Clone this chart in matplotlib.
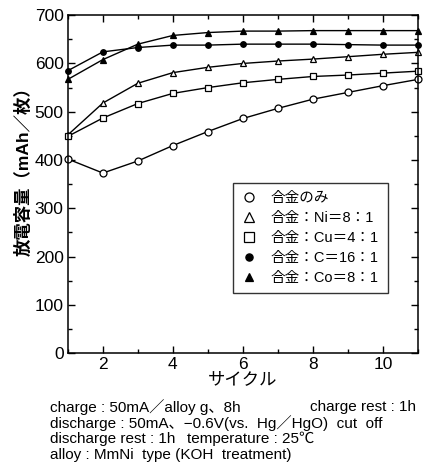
import matplotlib
matplotlib.use("Agg")
import matplotlib.pyplot as plt
from matplotlib.ticker import MultipleLocator

plt.rcParams['font.family'] = ['Liberation Sans', 'Noto Sans CJK JP', 'DejaVu Sans']

cycles = [1, 2, 3, 4, 5, 6, 7, 8, 9, 10, 11]
alloy_only = [402, 373, 398, 430, 459, 486, 507, 526, 540, 554, 567]
ni_8_1 = [452, 518, 559, 581, 592, 600, 605, 609, 614, 619, 623]
cu_4_1 = [449, 487, 517, 538, 550, 560, 567, 573, 576, 580, 584]
c_16_1 = [585, 624, 633, 638, 638, 640, 640, 640, 639, 638, 638]
co_8_1 = [567, 608, 640, 658, 664, 667, 667, 668, 668, 668, 668]

labels = ["合金のみ", "合金：Ni＝8：1", "合金：Cu＝4：1",
          "合金：C＝16：1", "合金：Co＝8：1"]

# (text, x pixel, line number)
notes = [
    ("charge : 50mA／alloy g、8h", 50, 0),
    ("charge rest : 1h", 310, 0),
    ("discharge : 50mA、−0.6V(vs.  Hg／HgO)  cut  off", 50, 1),
    ("discharge rest : 1h", 50, 2),
    ("temperature : 25℃", 187, 2),
    ("alloy : MmNi  type (KOH  treatment)", 50, 3),
]

fig = plt.figure(figsize=(4.35, 4.74), dpi=100)
ax = fig.add_axes([0.156, 0.255, 0.805, 0.713])

series = [
    (alloy_only, "o", "white", 5),
    (ni_8_1, "^", "white", 5),
    (cu_4_1, "s", "white", 5),
    (c_16_1, "o", "black", 4),
    (co_8_1, "^", "black", 4),
]
for (vals, mk, fc, ms), lab in zip(series, labels):
    ax.plot(cycles, vals, color="black", lw=1.0, marker=mk, mfc=fc,
            mec="black", ms=ms, mew=0.9, label=lab, clip_on=False)

ax.set_xlim(1, 11)
ax.set_ylim(0, 700)
ax.xaxis.set_major_locator(MultipleLocator(2))
ax.xaxis.set_minor_locator(MultipleLocator(1))
ax.yaxis.set_major_locator(MultipleLocator(100))
ax.yaxis.set_minor_locator(MultipleLocator(50))
ax.tick_params(which="both", direction="in", top=True, right=True,
               labelsize=12.5, width=1)
ax.tick_params(which="major", length=5, pad=3)
ax.tick_params(which="minor", length=3)
for s in ax.spines.values():
    s.set_linewidth(1.1)

ax.set_xlabel("サイクル", fontsize=12.5, labelpad=0)
fig.text(23 / 435, 1 - 167 / 474, "放電容量（mAh／枚）", fontsize=12.5,
         rotation=90, ha="center", va="center", fontweight="bold")

leg = ax.legend(loc="lower right", bbox_to_anchor=(0.934, 0.155),
                fontsize=10.5, frameon=True, fancybox=False, edgecolor="black",
                handlelength=1.0, handletextpad=1.0, borderpad=0.6,
                labelspacing=0.4, markerscale=1.3)
for h in leg.legend_handles:
    h.set_linestyle("none")
leg.get_frame().set_linewidth(1.0)

for t, xp, line in notes:
    fig.text(xp / 435, 1 - (407 + line * 16) / 474, t, fontsize=11,
             va="center")

fig.savefig("out.png", dpi=100)
